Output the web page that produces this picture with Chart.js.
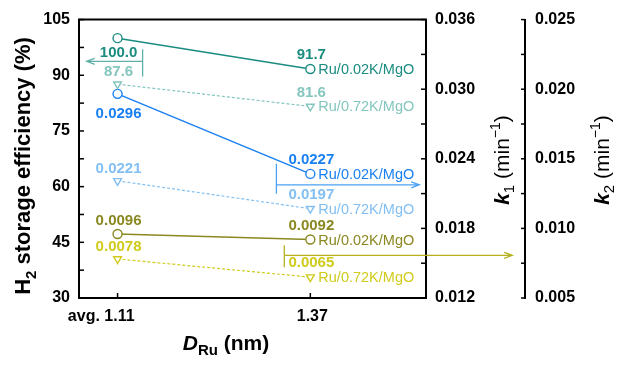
<!DOCTYPE html>
<html>
<head>
<meta charset="utf-8">
<script src="https://cdn.jsdelivr.net/npm/chart.js@4.4.0/dist/chart.umd.min.js"></script>
<style>
  html, body { margin: 0; padding: 0; background: #fff; }
  #wrap { width: 625px; height: 368px; }
</style>
</head>
<body>
<div id="wrap"><canvas id="grafico" width="625" height="368"></canvas></div>
<script>
// x positions of the two Ru particle sizes and their tick labels
const sizePositions = [0, 1];
const sizeLabels = ['avg. 1.11', '1.37'];

// H2 storage efficiency (%)
const storage002K = [100.0, 91.7];
const storage072K = [87.6, 81.6];
// k1 (min-1)
const k1_002K = [0.0296, 0.0227];
const k1_072K = [0.0221, 0.0197];
// k2 (min-1)
const k2_002K = [0.0096, 0.0092];
const k2_072K = [0.0078, 0.0065];

const seriesNames = ['Ru/0.02K/MgO', 'Ru/0.72K/MgO'];

const FONT = '"Liberation Sans", Arial, sans-serif';
const teal = '#1b8c80', tealLight = '#84c6be';
const blue = '#1a80f2', blueLight = '#82bff2';
const olive = '#8a8820', yellow = '#d0cb1c';

function toPoints(values) {
    return values.map((v, i) => ({ x: sizePositions[i], y: v }));
}

function makeSet(values, axis, color, triangle, decimals, name, dyLeft) {
    return {
        label: name,
        data: toPoints(values),
        yAxisID: axis,
        borderColor: color,
        backgroundColor: '#fff',
        borderWidth: triangle ? 1.2 : 1.5,
        borderDash: triangle ? [3, 2] : [],
        pointStyle: triangle ? 'triangle' : 'circle',
        rotation: triangle ? 180 : 0,
        pointRadius: 4.5,
        pointBorderWidth: 1.4,
        pointBackgroundColor: '#fff',
        pointBorderColor: color,
        decimals: decimals,
        dyLeft: dyLeft
    };
}

const datasets = [
    makeSet(storage002K, 'y', teal, false, 1, seriesNames[0], 15),
    makeSet(storage072K, 'y', tealLight, true, 1, seriesNames[1], -12),
    makeSet(k1_002K, 'k1', blue, false, 4, seriesNames[0], 20),
    makeSet(k1_072K, 'k1', blueLight, true, 4, seriesNames[1], -12),
    makeSet(k2_002K, 'k2', olive, false, 4, seriesNames[0], -13),
    makeSet(k2_072K, 'k2', yellow, true, 4, seriesNames[1], -12)
];

// arrows telling which axis each group belongs to (in axis units)
const arrows = [
    { axis: 'y', x: 0.13, yTop: 97, yBottom: 89.7, yLine: 93.75, xEnd: -0.16, color: '#5fb1a7' },
    { axis: 'y', x: 0.824, yTop: 66.2, yBottom: 58.1, yLine: 60.5, xEnd: 1.565, color: '#4aa2f4' },
    { axis: 'y', x: 0.865, yTop: 44.2, yBottom: 38.3, yLine: 41.5, xEnd: 2.047, color: '#b5b020' }
];

function drawRich(ctx, parts, x, y, align) {
    // parts: [text, font, dy]
    let total = 0;
    parts.forEach(p => { ctx.font = p[1]; total += ctx.measureText(p[0]).width; });
    let cx = align === 'center' ? x - total / 2 : x;
    ctx.textAlign = 'left';
    parts.forEach(p => {
        ctx.font = p[1];
        ctx.fillText(p[0], cx, y + (p[2] || 0));
        cx += ctx.measureText(p[0]).width;
    });
}

const extras = {
    id: 'extras',
    afterDraw(chart) {
        const ctx = chart.ctx;
        const area = chart.chartArea;
        const sx = chart.scales.x, sy = chart.scales.y, s1 = chart.scales.k1, s2 = chart.scales.k2;
        ctx.save();
        ctx.strokeStyle = '#000';
        ctx.lineWidth = 2;
        // top edge of box
        ctx.beginPath();
        ctx.moveTo(area.left - 1, area.top);
        ctx.lineTo(area.right + 1, area.top);
        ctx.stroke();

        // tick marks, all pointing inward
        ctx.lineWidth = 1.5;
        sy.ticks.forEach(t => {
            const py = sy.getPixelForValue(t.value);
            ctx.beginPath(); ctx.moveTo(area.left, py); ctx.lineTo(area.left + 5, py); ctx.stroke();
        });
        s1.ticks.forEach(t => {
            const py = s1.getPixelForValue(t.value);
            ctx.beginPath(); ctx.moveTo(area.right, py); ctx.lineTo(area.right - 5, py); ctx.stroke();
        });
        s2.ticks.forEach(t => {
            const py = s2.getPixelForValue(t.value);
            ctx.beginPath(); ctx.moveTo(s2.left, py); ctx.lineTo(s2.left - 4, py); ctx.stroke();
        });
        sizePositions.forEach(v => {
            const px = sx.getPixelForValue(v);
            ctx.beginPath(); ctx.moveTo(px, area.bottom); ctx.lineTo(px, area.bottom - 5); ctx.stroke();
        });

        // x tick labels
        ctx.fillStyle = '#000';
        ctx.textBaseline = 'middle';
        ctx.font = 'bold 16px ' + FONT;
        ctx.textAlign = 'right';
        ctx.fillText(sizeLabels[0], sx.getPixelForValue(sizePositions[0]) + 17, area.bottom + 19);
        ctx.textAlign = 'center';
        ctx.fillText(sizeLabels[1], sx.getPixelForValue(sizePositions[1]) + 2, area.bottom + 19);

        // axis titles
        ctx.textBaseline = 'alphabetic';
        drawRich(ctx, [
            ['D', 'italic bold 21px ' + FONT, 0],
            ['Ru', 'bold 15px ' + FONT, 5],
            [' (nm)', 'bold 21px ' + FONT, 0]
        ], 226, area.bottom + 52, 'center');

        function vertical(parts, x, yc) {
            ctx.save();
            ctx.translate(x, yc);
            ctx.rotate(-Math.PI / 2);
            drawRich(ctx, parts, 0, 0, 'center');
            ctx.restore();
        }
        vertical([
            ['H', 'bold 22px ' + FONT, 0],
            ['2', 'bold 15px ' + FONT, 6],
            [' storage efficiency (%)', 'bold 22px ' + FONT, 0]
        ], 30, 166);
        vertical([
            ['k', 'italic bold 21px ' + FONT, 0],
            ['1', '15px ' + FONT, 5],
            [' (min', '21px ' + FONT, 0],
            ['\u22121', '14px ' + FONT, -9],
            [')', '21px ' + FONT, 0]
        ], s1.left + 83, 160);
        vertical([
            ['k', 'italic bold 21px ' + FONT, 0],
            ['2', '15px ' + FONT, 5],
            [' (min', '21px ' + FONT, 0],
            ['\u22121', '14px ' + FONT, -9],
            [')', '21px ' + FONT, 0]
        ], s2.left + 84, 160);

        // arrows
        arrows.forEach(a => {
            const sc = chart.scales[a.axis];
            const px = sx.getPixelForValue(a.x);
            const pe = sx.getPixelForValue(a.xEnd);
            const py = sc.getPixelForValue(a.yLine);
            ctx.strokeStyle = a.color;
            ctx.lineWidth = 1.3;
            ctx.beginPath();
            ctx.moveTo(px, sc.getPixelForValue(a.yTop));
            ctx.lineTo(px, sc.getPixelForValue(a.yBottom));
            ctx.moveTo(px, py);
            ctx.lineTo(pe, py);
            const dir = pe < px ? 1 : -1;
            ctx.moveTo(pe + dir * 8, py - 3);
            ctx.lineTo(pe, py);
            ctx.lineTo(pe + dir * 8, py + 3);
            ctx.stroke();
        });

        // value and series labels
        ctx.textBaseline = 'middle';
        chart.data.datasets.forEach((ds, i) => {
            const meta = chart.getDatasetMeta(i);
            const p0 = meta.data[0], p1 = meta.data[1];
            ctx.fillStyle = ds.borderColor;
            ctx.font = 'bold 15px ' + FONT;
            ctx.textAlign = 'center';
            ctx.fillText(ds.data[0].y.toFixed(ds.decimals), p0.x + 1, p0.y + ds.dyLeft);
            ctx.fillText(ds.data[1].y.toFixed(ds.decimals), p1.x + 1, p1.y - 14);
            ctx.font = '14.5px ' + FONT;
            ctx.textAlign = 'left';
            ctx.fillText(ds.label, p1.x + 8, p1.y + 1);
        });
        ctx.restore();
    }
};

const noGrid = { display: false, drawTicks: false, drawOnChartArea: false };
const tickFont = { family: FONT, size: 16, weight: 'bold' };

new Chart(document.getElementById('grafico').getContext('2d'), {
    type: 'line',
    data: { datasets: datasets },
    options: {
        responsive: false,
        animation: false,
        layout: { padding: { top: 18, left: 0, right: 0, bottom: 0 } },
        plugins: { legend: { display: false }, tooltip: { enabled: false } },
        scales: {
            x: {
                type: 'linear', min: -0.2, max: 1.6,
                grid: noGrid,
                border: { display: true, color: '#000', width: 2 },
                ticks: { display: false },
                afterFit: s => { s.height = 70; }
            },
            y: {
                position: 'left', min: 30, max: 105,
                grid: noGrid,
                border: { display: true, color: '#000', width: 2 },
                ticks: {
                    stepSize: 7.5, padding: 9, color: '#000', font: tickFont,
                    callback: v => (Math.round(v * 2) % 30 === 0 ? v : '')
                },
                afterFit: s => { s.width = 79; }
            },
            k1: {
                position: 'right', min: 0.012, max: 0.036,
                grid: noGrid,
                border: { display: true, color: '#000', width: 2 },
                ticks: {
                    stepSize: 0.003, padding: 9, color: '#000', font: tickFont,
                    callback: v => (Math.round(v * 1000) % 6 === 0 ? v.toFixed(3) : '')
                },
                afterFit: s => { s.width = 99; }
            },
            k2: {
                position: 'right', min: 0.005, max: 0.025,
                grid: noGrid,
                border: { display: true, color: '#000', width: 2 },
                ticks: {
                    stepSize: 0.0025, padding: 10, color: '#000', font: tickFont,
                    callback: v => (Math.round(v * 10000) % 50 === 0 ? v.toFixed(3) : '')
                },
                afterFit: s => { s.width = 100; }
            }
        }
    },
    plugins: [extras]
});
</script>
</body>
</html>
